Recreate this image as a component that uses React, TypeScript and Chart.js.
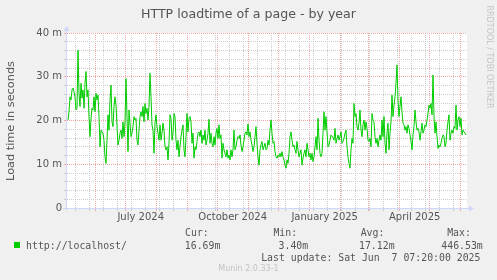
import React, { useEffect, useRef } from 'react';
import { Chart, registerables } from 'chart.js';

Chart.register(...registerables);

// ---------- data ----------
const CHART_TITLE = 'HTTP loadtime of a page - by year';
const Y_AXIS_TITLE = 'Load time in seconds';
const SERIES_NAME = 'http://localhost/';
const WATERMARK = 'RRDTOOL / TOBI OETIKER';
const FOOTER = 'Munin 2.0.33-1';
const LAST_UPDATE_TEXT = 'Last update: Sat Jun  7 07:20:00 2025';

const STAT_HEADERS = ['Cur:', 'Min:', 'Avg:', 'Max:'];
const STAT_VALUES = ['16.69m', '3.40m', '17.12m', '446.53m'];

const LAST_UPDATE = Date.UTC(2025, 5, 7, 7, 20, 0);
const SPAN_DAYS = 400;

const Y_MIN = 0;
const Y_MAX = 40;
const Y_MINOR_STEP = 2;
const Y_MAJOR_STEP = 10;
const Y_UNIT = ' m';

const X_LABEL_MONTHS = ['2024-07', '2024-10', '2025-01', '2025-04'];
const X_LABEL_TEXTS = ['July 2024', 'October 2024', 'January 2025', 'April 2025'];
const MINOR_GRID_ANCHOR = '2025-05-25';
const MINOR_GRID_DAYS = 14;

// daily load time (milliseconds, "m"), oldest first, last value = current
const LOAD_TIME = [
  20.1, 22.0, 25.4, 24.7, 27.0, 27.4, 26.6, 25.4, 22.4, 22.8,
  36.1, 26.2, 23.2, 28.5, 25.1, 27.0, 22.8, 28.5, 31.2, 25.4,
  27.0, 20.9, 16.3, 20.5, 22.8, 22.4, 25.4, 22.0, 26.2, 24.7,
  25.8, 20.9, 14.0, 17.8, 17.4, 17.1, 15.5, 11.7, 10.2, 15.5,
  21.3, 17.8, 24.7, 28.1, 19.7, 18.6, 23.2, 25.4, 23.5, 18.6,
  14.4, 15.5, 17.1, 17.8, 15.9, 19.7, 16.3, 19.4, 29.6, 20.9,
  12.9, 22.4, 19.4, 16.3, 17.1, 18.6, 20.9, 20.1, 20.5, 15.5,
  14.4, 17.8, 20.9, 22.0, 20.9, 23.2, 19.7, 23.9, 21.6, 22.8,
  20.1, 23.2, 30.8, 25.4, 19.0, 17.8, 12.5, 19.4, 21.3, 18.6,
  17.1, 15.5, 19.0, 15.5, 17.1, 19.4, 17.8, 14.0, 13.3, 14.0,
  11.0, 14.8, 21.3, 20.5, 15.5, 17.1, 21.6, 20.9, 15.5, 13.3,
  15.5, 11.7, 14.0, 16.3, 17.8, 19.0, 13.3, 11.7, 16.3, 21.6,
  17.4, 20.5, 20.9, 19.7, 14.8, 17.1, 11.4, 14.0, 13.3, 15.2,
  17.1, 17.4,
  16.3, 17.8, 14.8, 16.7, 15.5, 17.8, 14.4, 15.5, 17.1, 20.3,
  14.8, 17.1, 14.8, 14.0, 16.3, 14.4, 17.1, 18.2, 15.9, 19.0,
  15.9, 16.7, 11.4, 14.8, 13.3, 12.5, 11.7, 13.3, 11.4, 12.1,
  11.0, 13.3, 11.7, 13.3, 17.8, 13.3, 14.0, 15.5, 16.3, 15.9,
  16.7, 14.4, 12.9, 14.0, 15.5, 17.1, 17.4, 16.7, 19.2, 16.3,
  17.4, 15.5, 14.4, 12.9, 14.0, 16.3, 18.6, 14.8, 11.7, 9.8,
  13.3, 14.4, 15.2, 13.3, 14.0, 14.8, 13.3, 13.6, 15.5, 14.4,
  17.8, 20.1, 17.1, 14.8, 15.2, 12.9, 11.7, 11.4, 12.1, 11.7,
  12.5, 11.7, 12.9, 11.7, 11.0, 9.8, 9.1, 11.0, 10.2, 12.5,
  16.3, 17.4, 15.5, 14.0, 14.4, 13.3, 12.5, 15.2, 13.3, 11.7,
  12.5, 13.3, 9.8, 11.4, 12.5, 13.3, 11.7, 14.8, 13.3, 11.7,
  12.5, 11.0, 12.5, 10.6, 11.7, 14.0, 16.3, 13.3, 20.5, 15.5,
  12.5, 11.7, 12.5, 17.1, 22.0, 17.8, 20.9, 17.4, 14.0, 14.4,
  15.5, 16.7, 16.3,
  16.2, 15.5, 18.2, 14.8, 15.9, 16.7, 15.5, 16.3, 17.4, 14.8,
  15.2, 15.9, 17.1, 17.8, 14.0, 11.7, 10.2, 9.1, 13.3, 15.9,
  14.8, 23.9, 20.9, 21.6, 18.6, 17.8, 19.4, 22.4, 17.8, 16.3,
  19.0, 20.1, 17.8, 19.7, 18.2, 15.5, 15.2, 15.9, 14.0, 21.6,
  20.1, 19.7, 16.3, 14.8, 15.9, 14.0, 15.5, 16.7, 15.5, 20.1,
  16.3, 20.9, 14.8, 12.5, 17.1, 19.4, 13.3, 17.1, 19.7, 25.8,
  20.9, 23.5, 25.4, 28.5, 32.7, 24.7, 20.9, 23.2, 25.4, 22.0,
  19.4, 19.0, 17.8, 18.6, 17.1, 19.0, 18.2, 16.7, 15.2, 13.3,
  16.7, 18.6, 22.4, 19.7, 17.8, 18.2, 17.4, 15.5, 17.4, 19.4,
  17.1, 17.8, 19.0, 18.6, 20.1, 21.6, 23.5, 22.8, 23.9, 21.3,
  30.4, 20.9, 17.1, 19.7, 16.3, 13.6, 14.4, 14.0, 14.8, 15.9,
  16.7, 16.3, 14.0, 14.8, 17.8, 19.7, 21.3, 15.5, 17.1, 17.8,
  17.1, 18.6, 18.2, 23.5, 17.8, 20.1, 20.9, 18.6, 20.5, 16.7,
  17.8, 17.4, 17.1, 16.69,
];

// ---------- styles ----------
const W = 497;
const H = 280;
const BG = '#F0F0F0';
const FONT_COLOR = '#555555';
const AXIS_COLOR = '#CFD6F8';
const MAJOR_GRID = '#F0A8A8';
const MINOR_GRID = '#CCCCCC';
const LINE_COLOR = '#00CC00';
const SANS = "'DejaVu Sans', sans-serif";
const MONO = "'DejaVu Sans Mono', monospace";

const DAY = 86400000;
const END_DAY = LAST_UPDATE / DAY;
const START_DAY = END_DAY - SPAN_DAYS;

type XTick = { value: number; kind: 'major' | 'minor' | 'label'; text: string };

function buildXTicks(): XTick[] {
  const ticks: XTick[] = [];
  const anchor = Date.parse(MINOR_GRID_ANCHOR + 'T00:00:00Z');
  for (let t = anchor; t / DAY > START_DAY; t -= MINOR_GRID_DAYS * DAY) {
    if (t / DAY < END_DAY) ticks.push({ value: t / DAY, kind: 'minor', text: '' });
  }
  const s = new Date(START_DAY * DAY);
  let y = s.getUTCFullYear();
  let m = s.getUTCMonth() + 1;
  for (;;) {
    const t = Date.UTC(y, m, 1);
    if (t / DAY >= END_DAY) break;
    ticks.push({ value: t / DAY, kind: 'major', text: '' });
    m++;
    if (m > 11) { m = 0; y++; }
  }
  X_LABEL_MONTHS.forEach((lm, i) => {
    const [yy, mm] = lm.split('-').map(Number);
    ticks.push({ value: Date.UTC(yy, mm - 1, 16) / DAY, kind: 'label', text: X_LABEL_TEXTS[i] });
  });
  ticks.sort((a, b) => a.value - b.value);
  return ticks;
}

const xGridColor = (ctx: any) => {
  const k = ctx.tick && ctx.tick.kind;
  return k === 'major' ? MAJOR_GRID : k === 'minor' ? MINOR_GRID : 'rgba(0,0,0,0)';
};
const yGridColor = (ctx: any) => {
  const v = ctx.tick ? ctx.tick.value : 0;
  if (v === Y_MIN) return 'rgba(0,0,0,0)';
  return v % Y_MAJOR_STEP === 0 ? MAJOR_GRID : MINOR_GRID;
};

const frame = {
  id: 'muninFrame',
  beforeDraw(chart: any) {
    const { ctx, chartArea: a, width, height } = chart;
    ctx.save();
    ctx.fillStyle = BG;
    ctx.fillRect(0, 0, width, height);
    ctx.fillStyle = '#FFFFFF';
    ctx.fillRect(a.left, a.top, a.right - a.left, a.bottom - a.top);
    ctx.restore();
  },
  afterDraw(chart: any) {
    const { ctx, chartArea: a } = chart;
    const y = Math.round(a.bottom) + 0.5;
    const x = Math.round(a.left) - 0.5;
    ctx.save();
    ctx.strokeStyle = AXIS_COLOR;
    ctx.fillStyle = AXIS_COLOR;
    ctx.lineWidth = 1;
    ctx.beginPath();
    ctx.moveTo(a.left - 4, y);
    ctx.lineTo(a.right + 3, y);
    ctx.moveTo(x, a.bottom + 3);
    ctx.lineTo(x, a.top - 3);
    ctx.stroke();
    ctx.beginPath();
    ctx.moveTo(a.right + 2, y - 3);
    ctx.lineTo(a.right + 7, y);
    ctx.lineTo(a.right + 2, y + 3);
    ctx.closePath();
    ctx.fill();
    ctx.beginPath();
    ctx.moveTo(x - 3, a.top - 2);
    ctx.lineTo(x, a.top - 7);
    ctx.lineTo(x + 3, a.top - 2);
    ctx.closePath();
    ctx.fill();
    ctx.restore();
  },
};

function Txt(props: { left: number; top: number; size: number; family: string; color?: string; lh: number; width?: number; align?: any; children: any }) {
  return (
    <div
      style={{
        position: 'absolute',
        left: props.left,
        top: props.top,
        width: props.width,
        fontSize: props.size,
        lineHeight: props.lh + 'px',
        height: props.lh,
        fontFamily: props.family,
        color: props.color || FONT_COLOR,
        whiteSpace: 'pre',
        textAlign: props.align || 'left',
      }}
    >
      {props.children}
    </div>
  );
}

export default function App() {
  const ref = useRef<HTMLCanvasElement | null>(null);

  useEffect(() => {
    if (!ref.current) return;
    const xTicks = buildXTicks();
    const n = LOAD_TIME.length;
    const points = LOAD_TIME.map((v, i) => ({ x: END_DAY - (n - i), y: v }));

    const chart = new Chart(ref.current, {
      type: 'line',
      data: {
        datasets: [
          {
            label: SERIES_NAME,
            data: points,
            borderColor: LINE_COLOR,
            borderWidth: 1,
            pointRadius: 0,
            tension: 0,
            fill: false,
          },
        ],
      },
      options: {
        animation: false,
        responsive: false,
        devicePixelRatio: 1,
        layout: { padding: { left: 0, right: 30, top: 33, bottom: 0 } },
        plugins: {
          legend: { display: false },
          tooltip: { enabled: false },
          title: { display: false },
        },
        scales: {
          x: {
            type: 'linear',
            min: START_DAY,
            max: END_DAY,
            bounds: 'data',
            afterBuildTicks: (scale: any) => {
              scale.ticks = xTicks.map((t) => ({ ...t }));
            },
            afterFit: (scale: any) => {
              scale.height = 72;
            },
            ticks: {
              autoSkip: false,
              maxRotation: 0,
              minRotation: 0,
              padding: 0,
              color: FONT_COLOR,
              font: { family: SANS, size: 10 },
              callback: (_v: any, i: number, ticks: any[]) => (ticks[i] && ticks[i].text) || '',
            },
            grid: {
              color: xGridColor,
              tickColor: xGridColor,
              tickLength: 3,
              lineWidth: 1,
            },
            border: { display: false, dash: [1, 1] },
          },
          y: {
            type: 'linear',
            min: Y_MIN,
            max: Y_MAX,
            afterFit: (scale: any) => {
              scale.width = 67;
            },
            ticks: {
              stepSize: Y_MINOR_STEP,
              autoSkip: false,
              padding: 2,
              color: FONT_COLOR,
              font: { family: SANS, size: 10 },
              callback: (v: any) => {
                const num = Number(v);
                if (num % Y_MAJOR_STEP !== 0) return '';
                return num === 0 ? '0' : num + Y_UNIT;
              },
            },
            grid: {
              color: yGridColor,
              tickColor: yGridColor,
              tickLength: 3,
              lineWidth: 1,
            },
            border: { display: false, dash: [1, 1] },
          },
        },
      },
      plugins: [frame],
    } as any);
    return () => chart.destroy();
  }, []);

  const headerLefts = [185.1, 273.4, 360.7, 447.2];
  const valueLefts = [184.8, 278.6, 359.0, 441.3];
  const monoSize = 9.85;

  return (
    <div style={{ position: 'fixed', left: 0, top: 0, width: W, height: H, background: BG, overflow: 'hidden' }}>
      <canvas ref={ref} width={W} height={H} style={{ position: 'absolute', left: 0, top: 0, width: W, height: H }} />
      <Txt left={0} top={6.4} width={W} align="center" size={12.6} lh={15} family={SANS}>{CHART_TITLE}</Txt>
      <div
        style={{
          position: 'absolute',
          left: 10.8 - 100,
          top: 120.5 - 7,
          width: 200,
          height: 14,
          lineHeight: '14px',
          fontSize: 11.3,
          fontFamily: SANS,
          color: FONT_COLOR,
          textAlign: 'center',
          whiteSpace: 'pre',
          transform: 'rotate(-90deg)',
        }}
      >
        {Y_AXIS_TITLE}
      </div>
      <div
        style={{
          position: 'absolute',
          left: 488.5 - 70,
          top: 56.5 - 5,
          width: 140,
          height: 10,
          lineHeight: '10px',
          fontSize: 8,
          fontFamily: SANS,
          color: '#C4C4C4',
          textAlign: 'center',
          whiteSpace: 'pre',
          transform: 'rotate(90deg)',
        }}
      >
        {WATERMARK}
      </div>
      {STAT_HEADERS.map((h, i) => (
        <Txt key={'h' + i} left={headerLefts[i]} top={227.2} size={monoSize} lh={12} family={MONO}>{h}</Txt>
      ))}
      <div style={{ position: 'absolute', left: 14, top: 242, width: 6, height: 6, background: LINE_COLOR }} />
      <Txt left={26.1} top={239.6} size={monoSize} lh={12} family={MONO}>{SERIES_NAME}</Txt>
      {STAT_VALUES.map((v, i) => (
        <Txt key={'v' + i} left={valueLefts[i]} top={239.6} size={monoSize} lh={12} family={MONO}>{v}</Txt>
      ))}
      <Txt left={261.2} top={251.8} size={monoSize} lh={12} family={MONO}>{LAST_UPDATE_TEXT}</Txt>
      <Txt left={0} top={263.9} width={W} align="center" size={8} lh={10} family={SANS} color="#C4C4C4">{FOOTER}</Txt>
    </div>
  );
}
